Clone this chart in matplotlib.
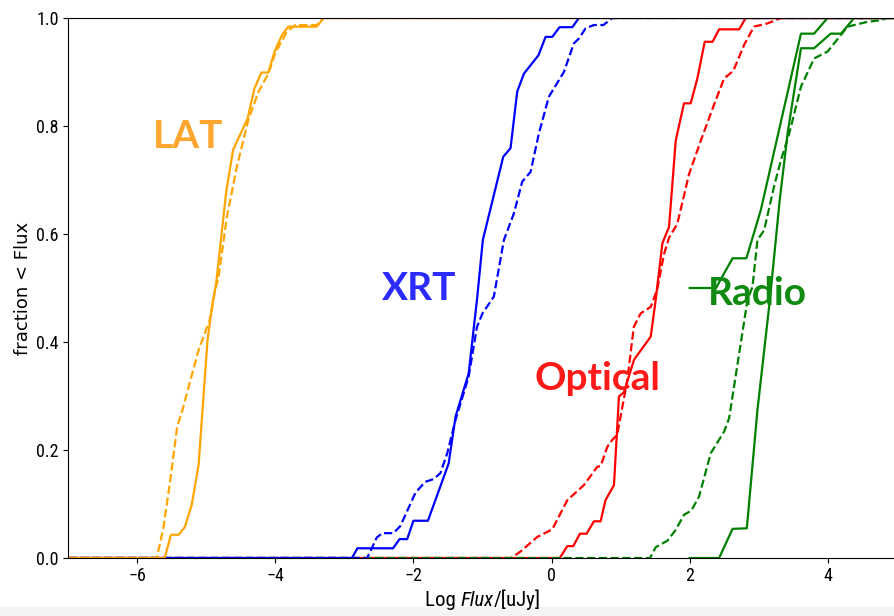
import matplotlib
matplotlib.use("Agg")
import matplotlib.pyplot as plt
from matplotlib.patches import Rectangle
from matplotlib import font_manager

# cumulative fraction curves (x = log flux [uJy])
lat_solid_x = [-7.5, -5.60, -5.51, -5.40, -5.31, -5.21, -5.11, -4.98, -4.90, -4.855, -4.76, -4.71, -4.61,
               -4.40, -4.30, -4.20, -4.10, -4.01, -3.90, -3.81, -3.40, -3.30, 5.5]
lat_solid_y = [0, 0, 0.043, 0.043, 0.057, 0.098, 0.172, 0.404, 0.478, 0.509, 0.62, 0.678, 0.756,
               0.814, 0.870, 0.899, 0.899, 0.938, 0.969, 0.984, 0.984, 1.0, 1.0]
lat_dash_x = [-7.5, -5.715, -5.62, -5.52, -5.42, -5.35, -5.11, -4.95, -4.87, -4.82, -4.70, -4.555, -4.39,
              -4.24, -4.10, -4.00, -3.83, -3.71, -3.40, -3.30, 5.5]
lat_dash_y = [0, 0, 0.055, 0.144, 0.243, 0.271, 0.385, 0.44, 0.496, 0.521, 0.632, 0.725, 0.811,
              0.864, 0.897, 0.935, 0.975, 0.987, 0.987, 1.0, 1.0]

xrt_solid_x = [-7.5, -2.89, -2.81, -2.295, -2.20, -2.09, -2.00, -1.79, -1.49, -1.39, -1.20, -1.13, -1.08,
               -0.995, -0.70, -0.594, -0.497, -0.40, -0.19, -0.087, 0.01, 0.116, 0.30, 0.396, 5.5]
xrt_solid_y = [0, 0, 0.018, 0.018, 0.035, 0.035, 0.069, 0.069, 0.175, 0.262, 0.342, 0.422, 0.478,
               0.589, 0.743, 0.759, 0.864, 0.897, 0.931, 0.965, 0.965, 0.983, 0.983, 1.0, 1.0]
xrt_dash_x = [-7.5, -2.67, -2.53, -2.45, -2.29, -2.19, -1.97, -1.83, -1.71, -1.61, -1.51, -1.39, -1.20,
              -1.08, -1.00, -0.836, -0.69, -0.546, -0.425, -0.304, -0.184, -0.04, 0.178, 0.323, 0.396,
              0.493, 0.613, 0.75, 0.88, 5.5]
xrt_dash_y = [0, 0, 0.038, 0.046, 0.046, 0.059, 0.121, 0.141, 0.146, 0.157, 0.194, 0.256, 0.336,
              0.428, 0.453, 0.484, 0.589, 0.638, 0.697, 0.715, 0.786, 0.854, 0.90, 0.953, 0.962,
              0.981, 0.987, 0.987, 1.0, 1.0]

opt_solid_x = [-7.5, 0.12, 0.227, 0.314, 0.41, 0.507, 0.613, 0.71, 0.78, 0.903, 0.975, 1.048, 1.193,
               1.435, 1.507, 1.604, 1.70, 1.797, 1.917, 2.014, 2.11, 2.217, 2.33, 2.425, 2.715, 2.81, 5.5]
opt_solid_y = [0, 0, 0.022, 0.022, 0.045, 0.045, 0.068, 0.068, 0.107, 0.135, 0.299, 0.307, 0.367,
               0.41, 0.478, 0.583, 0.613, 0.773, 0.842, 0.842, 0.888, 0.956, 0.956, 0.979, 0.979, 1.0, 1.0]
opt_dash_x = [-7.5, -0.584, -0.45, -0.207, 0.01, 0.227, 0.468, 0.662, 0.71, 0.807, 0.88, 0.95, 1.097,
              1.19, 1.29, 1.435, 1.53, 1.628, 1.70, 1.82, 1.99, 2.16, 2.35, 2.497, 2.63, 2.79, 2.93,
              3.125, 3.32, 5.5]
opt_dash_y = [0, 0, 0.012, 0.039, 0.053, 0.107, 0.135, 0.169, 0.17, 0.206, 0.219, 0.228, 0.33,
              0.428, 0.453, 0.465, 0.498, 0.563, 0.593, 0.619, 0.711, 0.773, 0.839, 0.888, 0.902, 0.951, 0.984,
              0.99, 1.0, 1.0]

radio_solid_x = [2.0, 2.425, 2.62, 2.826, 2.98, 3.16, 3.30, 3.42, 3.61, 3.80, 4.04, 4.19, 4.38, 5.5]
radio_solid_y = [0, 0, 0.054, 0.055, 0.274, 0.478, 0.66, 0.79, 0.944, 0.944, 0.971, 0.971, 1.0, 1.0]
radio_sub_x = [2.0, 2.38, 2.47, 2.62, 2.82, 3.03, 3.61, 3.80, 3.995, 5.5]
radio_sub_y = [0.5, 0.5, 0.521, 0.555, 0.555, 0.645, 0.971, 0.971, 1.0, 1.0]
radio_dash_x = [-7.5, 1.425, 1.507, 1.676, 1.797, 1.917, 2.024, 2.135, 2.304, 2.497, 2.57, 2.836, 2.908,
                2.98, 3.077, 3.22, 3.32, 3.44, 3.61, 3.80, 3.996, 4.09, 4.285, 4.575, 4.77, 4.85, 5.5]
radio_dash_y = [0, 0, 0.02, 0.032, 0.052, 0.08, 0.088, 0.114, 0.194, 0.234, 0.259, 0.478, 0.502,
                0.589, 0.607, 0.688, 0.737, 0.786, 0.873, 0.925, 0.938, 0.953, 0.984, 0.993, 0.996, 1.0, 1.0]

band_names = ["LAT", "XRT", "Optical", "Radio"]
band_text_x = [-5.257, -1.92, 0.667, 2.986]
band_text_y = [0.759, 0.478, 0.311, 0.4685]

# a condensed face for the ticks, if one is installed
narrow_fam = "DejaVu Sans"
names = set(f.name for f in font_manager.fontManager.ttflist)
for cand in ["Liberation Sans Narrow", "Arial Narrow", "Roboto Condensed", "Open Sans Condensed",
             "DejaVu Sans Condensed"]:
    if cand in names:
        narrow_fam = cand
        break
narrow = font_manager.FontProperties(family=narrow_fam, stretch="condensed", size=13)

fig = plt.figure(figsize=(8.95, 6.16), dpi=100)
ax = fig.add_axes([68/895, 58/616, 829/895, 540/616])
fig.patches.append(Rectangle((0, 0), 1, 9/616, transform=fig.transFigure,
                             color="#f4f4f4", zorder=-1))

lw = 1.6
ax.plot(opt_solid_x, opt_solid_y, color="red", lw=lw)
ax.plot(opt_dash_x, opt_dash_y, color="red", lw=lw, ls="--")
ax.plot(radio_solid_x, radio_solid_y, color="green", lw=lw)
ax.plot(radio_sub_x, radio_sub_y, color="green", lw=lw)
ax.plot(radio_dash_x, radio_dash_y, color="green", lw=lw, ls="--")
ax.plot(xrt_solid_x, xrt_solid_y, color="blue", lw=lw)
ax.plot(xrt_dash_x, xrt_dash_y, color="blue", lw=lw, ls="--")
ax.plot(lat_solid_x, lat_solid_y, color="orange", lw=lw)
ax.plot(lat_dash_x, lat_dash_y, color="orange", lw=lw, ls="--")

label_colors = ["#ffa630", "#2b2bff", "#ff1a1a", "#118a11"]
for name, tx, ty, c in zip(band_names, band_text_x, band_text_y, label_colors):
    ax.text(tx, ty, name, color=c, fontsize=28, fontweight="bold", family="Lato",
            ha="center", va="baseline")

ax.set_xlim(-7, 5)
ax.set_ylim(0, 1)
ax.set_xticks([-6, -4, -2, 0, 2, 4])
ax.set_yticks([0, 0.2, 0.4, 0.6, 0.8, 1.0])
ax.tick_params(length=3.5, width=0.8, pad=3)
for lab in ax.get_xticklabels() + ax.get_yticklabels():
    lab.set_fontproperties(narrow)

# x label with italic "Flux", built from pieces
xl = narrow.copy()
xl.set_size(15)
xi = xl.copy()
xi.set_style("italic")
t1 = fig.text(0, 0, "Log ", fontproperties=xl)
t2 = fig.text(0, 0, "Flux", fontproperties=xi)
t3 = fig.text(0, 0, "/[uJy]", fontproperties=xl)
fig.canvas.draw()
r = fig.canvas.get_renderer()
widths = [t.get_window_extent(r).width for t in (t1, t2, t3)]
x0 = (68 + 897) / 2 - sum(widths) / 2
yb = 9.5
for t, w in zip((t1, t2, t3), widths):
    t.set_position((x0 / 895, yb / 616))
    t.set_va("baseline")
    x0 += w

ax.set_ylabel("fraction < Flux", fontsize=13, family="DejaVu Sans", labelpad=3)

plt.savefig("out.png", dpi=100)
